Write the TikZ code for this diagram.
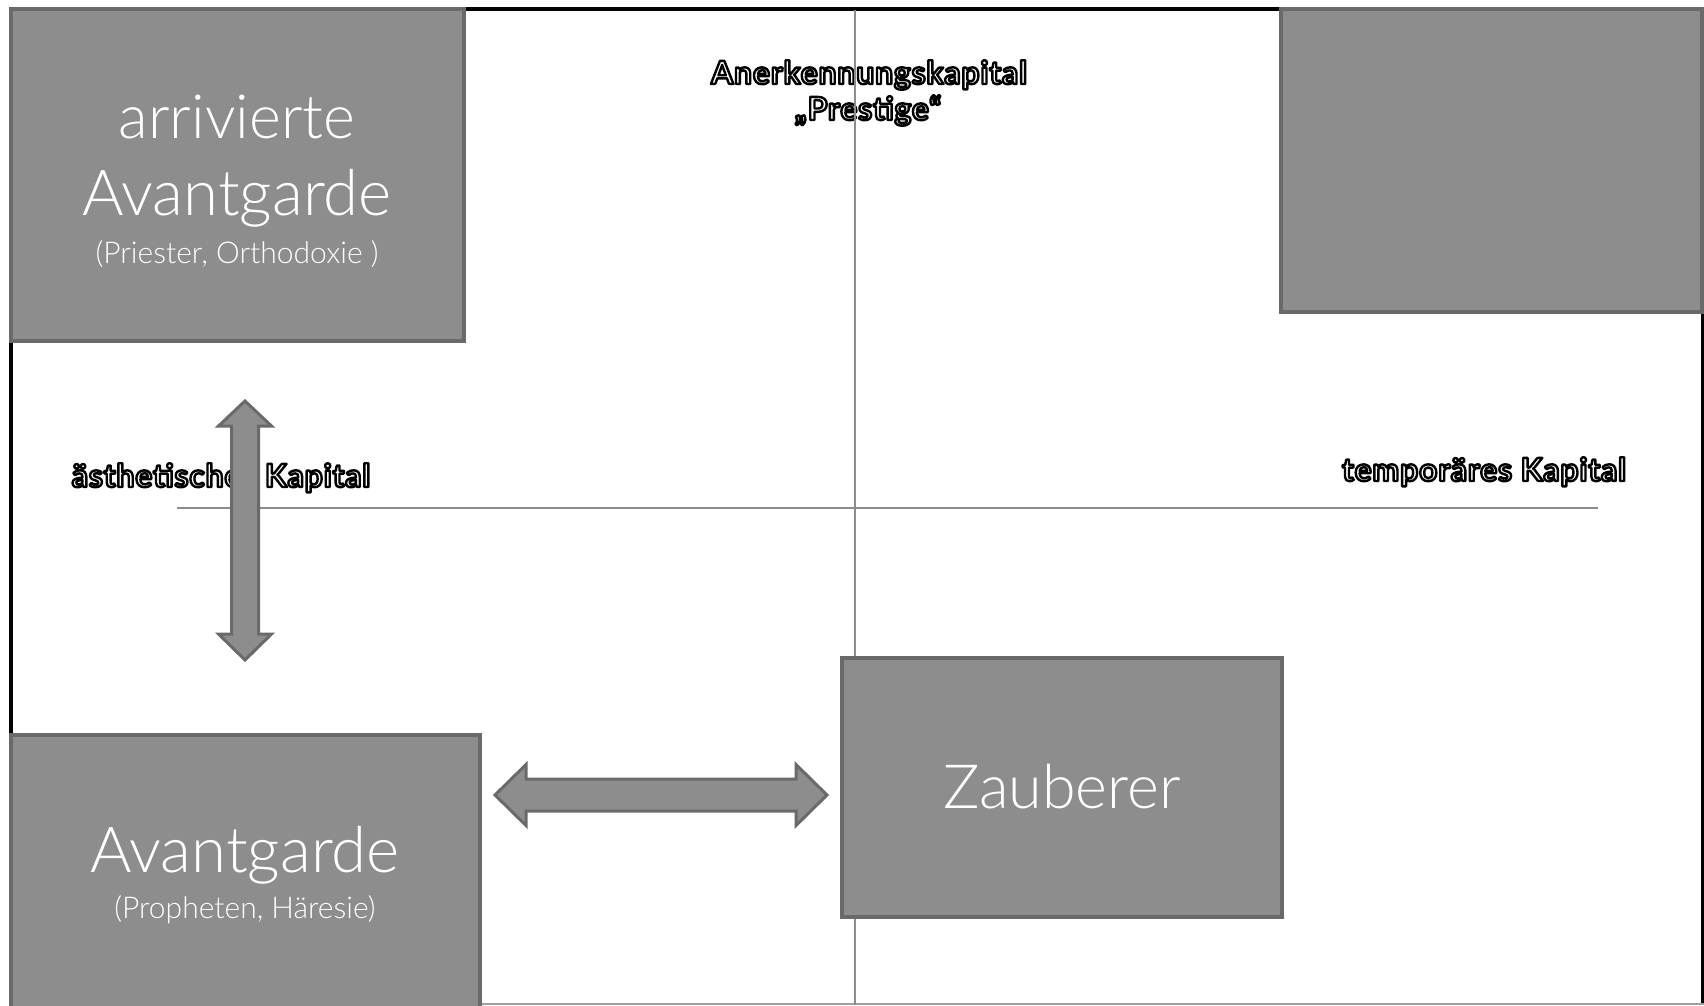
\documentclass[tikz,border=0pt]{standalone}
\usepackage{fontspec}
\setmainfont{Lato}
\newfontfamily\lightfont{Lato Light}
\newfontfamily\lblfont[LetterSpace=2.5]{Lato Bold}
\definecolor{boxfill}{RGB}{141,141,141}
\definecolor{boxdraw}{RGB}{106,106,106}
\definecolor{axisgray}{RGB}{140,140,140}
\definecolor{edgegray}{RGB}{160,160,160}
\tikzset{
  box/.style={draw=boxdraw, fill=boxfill, line width=4pt, inner sep=0pt},
  bigtext/.style={anchor=base, text=white, font=\lightfont\fontsize{61}{61}\selectfont, inner sep=0pt},
  avgtext/.style={anchor=base, text=white, font=\lightfont\fontsize{63.5}{63.5}\selectfont, inner sep=0pt},
  subtext/.style={anchor=base, text=white, font=\lightfont\fontsize{30}{30}\selectfont, inner sep=0pt},
  lbl/.style={anchor=base, text=white, font=\lblfont\fontsize{32}{32}\selectfont, inner sep=0pt},
  arrowshape/.style={draw=boxdraw, fill=boxfill, line width=3pt, line join=miter},
  frameline/.style={black, line width=4pt},
  axisline/.style={axisgray, line width=1.5pt},
}
\newcommand{\outl}[1]{\special{pdf:code q 2 Tr 2.4 w 1 j 0 0 0 RG}#1\special{pdf:code Q}}
\begin{document}
\begin{tikzpicture}[x=1pt,y=-1pt]
\useasboundingbox (0,0) rectangle (1704,1005);
% frame
\draw[frameline] (10.5,8.5) -- (1703,8.5);
\draw[frameline] (10.5,8.5) -- (10.5,1004);
\draw[frameline] (1703,8.5) -- (1703,1004);
\draw[edgegray, line width=1.5pt] (10.5,1004.2) -- (1704,1004.2);
% labels
\node[lbl] (ank) at (869,84) {\outl{Anerkennungskapital}};
\node[lbl] (prest) at (868,120) {\outl{„Prestige“}};
\node[lbl] (aest) at (221,487) {\outl{ästhetisches Kapital}};
\node[lbl] (temp) at (1484,481) {\outl{temporäres Kapital}};
% axes
\coordinate (vtop) at (855,10);
\coordinate (vbot) at (855,1005);
\coordinate (hl) at (177,508);
\coordinate (hr) at (1598,508);
\draw[axisline] (vtop) -- (vbot);
\draw[axisline] (hl) -- (hr);
% boxes
\node[box, minimum width=453.5pt, minimum height=332pt] (arr) at (237.25,174.5) {};
\node[box, minimum width=421.5pt, minimum height=302.5pt] (tr) at (1491.25,160.25) {};
\node[box, minimum width=469.5pt, minimum height=285pt] (avg) at (245.25,877.5) {};
\node[box, minimum width=440pt, minimum height=259pt] (zau) at (1062,787.5) {};
% box texts
\node[bigtext] (t1) at (237,138) {arrivierte};
\node[avgtext] (t2) at (237,215) {Avantgarde};
\node[subtext] (t3) at (237,263) {(Priester, Orthodoxie )};
\node[avgtext] (t4) at (245,872) {Avantgarde};
\node[subtext] (t5) at (245,918) {(Propheten, Häresie)};
\node[bigtext] (t6) at (1062,808) {Zauberer};
% arrows
\draw[arrowshape] (245,401) -- (271.5,426) -- (258.5,426) -- (258.5,634) -- (271.5,634) -- (245,660) -- (218.5,634) -- (231.5,634) -- (231.5,426) -- (218.5,426) -- cycle;
\draw[arrowshape] (495,795) -- (526,764.5) -- (526,779) -- (796,779) -- (796,764.5) -- (827,795) -- (796,825.5) -- (796,811) -- (526,811) -- (526,825.5) -- cycle;
\end{tikzpicture}
\end{document}
